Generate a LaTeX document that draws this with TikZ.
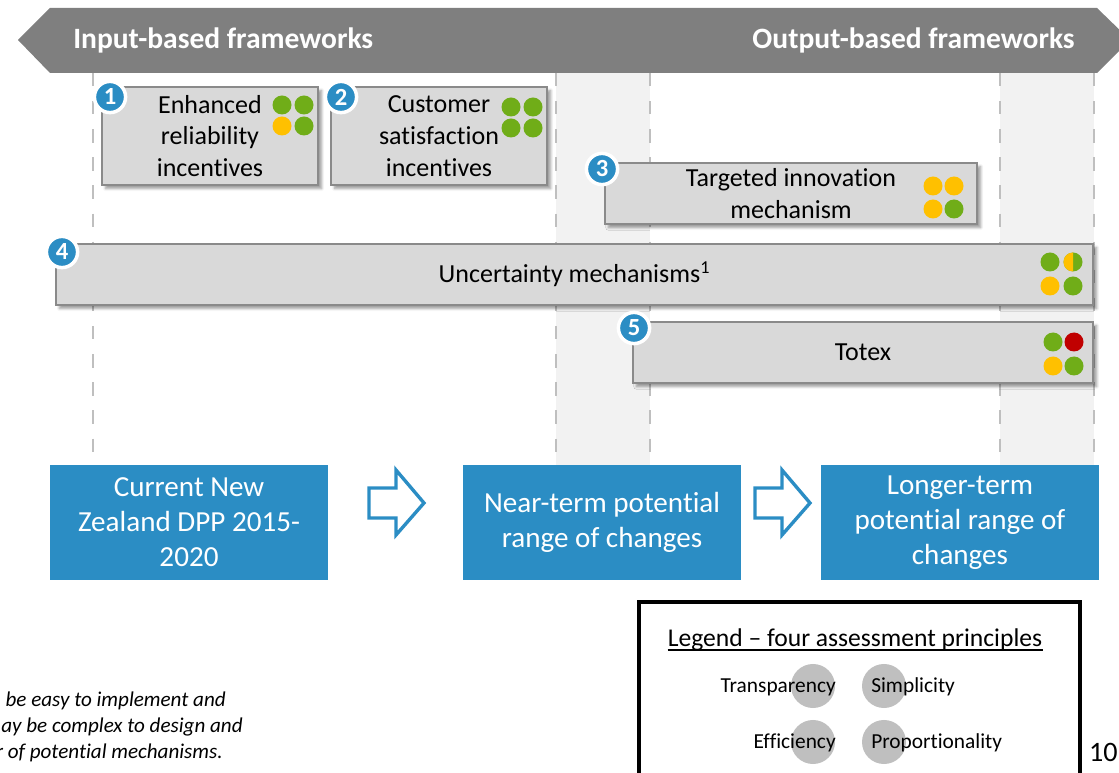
\documentclass[tikz,border=0pt]{standalone}
\usepackage{fontspec}
\setmainfont{Carlito}[Ligatures={NoCommon}]
\usetikzlibrary{calc,shadows.blur}
\definecolor{bandgray}{HTML}{7F7F7F}
\definecolor{boxfill}{HTML}{D9D9D9}
\definecolor{boxline}{HTML}{8A8A8A}
\definecolor{colfill}{HTML}{F2F2F2}
\definecolor{dashgray}{HTML}{BFBFBF}
\definecolor{dppblue}{HTML}{2B8DC4}
\definecolor{dotgreen}{HTML}{70AD18}
\definecolor{dotyellow}{HTML}{FFC000}
\definecolor{dotred}{HTML}{C00000}
\begin{document}
\begin{tikzpicture}[x=0.025cm,y=-0.025cm,
  mech/.style={draw=boxline,fill=boxfill,line width=1.4pt,inner sep=0pt,align=center,
    font=\fontsize{18.5}{22.6}\selectfont,
    blur shadow={shadow xshift=2.5pt,shadow yshift=-2.5pt,shadow blur steps=6,shadow opacity=40}},
  stage/.style={fill=dppblue,text=white,inner sep=0pt,align=center,
    font=\fontsize{20.7}{24.8}\selectfont,minimum width=6.95cm,minimum height=2.875cm},
  badge/.style={circle,fill=dppblue,draw=white,line width=2.5pt,text=white,inner sep=0pt,
    minimum size=0.78cm,font=\bfseries\fontsize{17.5}{17.5}\selectfont},
  hollow/.style={draw=dppblue,fill=white,line width=2.4pt,line join=miter},
  guide/.style={dashgray,line width=1.8pt,dash pattern=on 9.5pt off 10.5pt},
  headtext/.style={inner sep=0pt,text=white,font=\bfseries\fontsize{21}{24}\selectfont},
  principle/.style={circle,fill=dashgray,minimum size=1.1cm,inner sep=0pt},
  plabel/.style={inner sep=0pt,font=\fontsize{15.2}{18}\selectfont},
  note/.style={inner sep=0pt,anchor=east,font=\itshape\fontsize{15}{18}\selectfont}]
\useasboundingbox (0,0) rectangle (1119,773);

\fill[colfill] (556,73) rectangle (650,465);
\fill[colfill] (1000,73) rectangle (1094,465);
\foreach \x in {93,556,650,1000,1094}
  \draw[guide] (\x,73) -- (\x,458);

\fill[bandgray] (18,40) -- (50,8) -- (1097,8) -- (1130,40) -- (1097,73) -- (50,73) -- cycle;
\node[headtext,anchor=west] (input) at (73,40) {Input-based frameworks};
\node[headtext,anchor=east] (output) at (1075,40) {Output-based frameworks};

\node[mech,minimum width=5.4cm,minimum height=2.45cm] (rel) at (210,136) {Enhanced\\reliability\\incentives};
\node[mech,minimum width=5.4cm,minimum height=2.45cm] (cust) at (439,136) {Customer\\satisfaction\\incentives};
\node[mech,minimum width=9.3cm,minimum height=1.525cm] (innov) at (791,193.5) {Targeted innovation\\mechanism};
\node[mech,minimum width=25.925cm,minimum height=1.525cm] (uncert) at (574.5,274.5) {Uncertainty mechanisms\textsuperscript{1}};
\node[mech,minimum width=11.5cm,minimum height=1.525cm] (totex) at (863,352.5) {Totex};

\fill[dotgreen] (282,105) circle (9.5);
\fill[dotgreen] (304,105) circle (9.5);
\fill[dotyellow] (282,126) circle (9.5);
\fill[dotgreen] (304,126) circle (9.5);

\fill[dotgreen] (511,107) circle (9.5);
\fill[dotgreen] (533,107) circle (9.5);
\fill[dotgreen] (511,128) circle (9.5);
\fill[dotgreen] (533,128) circle (9.5);

\fill[dotyellow] (933,186) circle (9.5);
\fill[dotyellow] (954,186) circle (9.5);
\fill[dotyellow] (933,209) circle (9.5);
\fill[dotgreen] (954,209) circle (9.5);

\fill[dotgreen] (1050,262) circle (9.5);
\fill[dotgreen] (1073,262) circle (9.5);
\begin{scope}
  \clip (1062,250) rectangle (1073,274);
  \fill[dotyellow] (1073,262) circle (9.5);
\end{scope}
\fill[dotyellow] (1050,286) circle (9.5);
\fill[dotgreen] (1073,286) circle (9.5);

\fill[dotgreen] (1053,342) circle (9.5);
\fill[dotred] (1074,342) circle (9.5);
\fill[dotyellow] (1053,366) circle (9.5);
\fill[dotgreen] (1074,366) circle (9.5);

\node[badge] (n1) at (110,97) {1};
\node[badge] (n2) at (341,97) {2};
\node[badge] (n3) at (602,169) {3};
\node[badge] (n4) at (62,252) {4};
\node[badge] (n5) at (634,328) {5};

\node[stage] (now) at (189,522.5) {Current New\\Zealand DPP 2015-\\2020};
\node[stage] (near) at (602,522.5) {Near-term potential\\range of changes};
\node[stage] (long) at (960,522.5) {Longer-term\\potential range of\\changes};
\foreach \ax in {369,755}
  \draw[hollow] (\ax,488) -- ++(27,0) -- ++(0,-18) -- ++(28,33) -- ++(-28,32) -- ++(0,-17) -- ++(-27,0) -- cycle;

\node[draw,line width=3pt,minimum width=11.025cm,minimum height=5.75cm,anchor=north west] (legend) at (637,600) {};
\node[anchor=base,inner sep=0pt,font=\fontsize{18.2}{22}\selectfont] (ltitle) at (855,646) {Legend – four assessment principles};
\draw[line width=0.9pt] ($(ltitle.base west)+(0,4)$) -- ($(ltitle.base east)+(0,4)$);
\node[principle] (tc) at (813,686) {};
\node[principle] (sc) at (884,686) {};
\node[principle] (ec) at (813,742) {};
\node[principle] (pc) at (884,742) {};
\node[plabel,anchor=east] (tl) at (836,687) {Transparency};
\node[plabel,anchor=west] (sl) at (871,687) {Simplicity};
\node[plabel,anchor=east] (el) at (836,743) {Efficiency};
\node[plabel,anchor=west] (pl) at (871,743) {Proportionality};

\node[anchor=east,inner sep=0pt,font=\fontsize{20}{24}\selectfont] (pgno) at (1118,752) {10};

\node[note] (fn1) at (226,701) {be easy to implement and};
\node[note] (fn2) at (243,727) {ay be complex to design and};
\node[note] (fn3) at (223,753) {r of potential mechanisms.};
\end{tikzpicture}
\end{document}
